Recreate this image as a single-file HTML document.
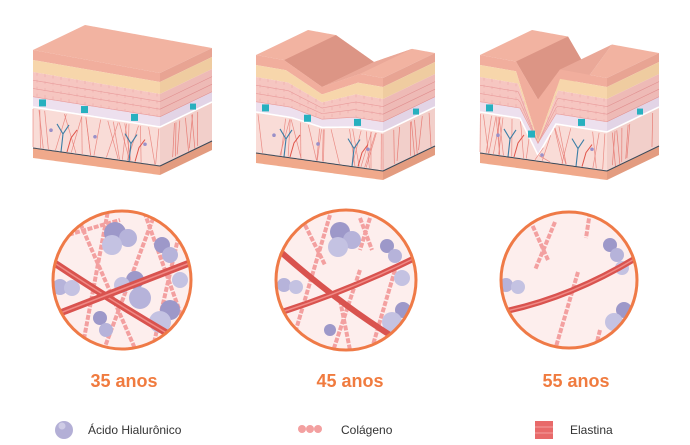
<!DOCTYPE html>
<html><head><meta charset="utf-8"><style>
html,body{margin:0;padding:0;background:#fff;}
svg{display:block;}
</style></head><body>
<svg id="s" width="690" height="445" viewBox="0 0 690 445" xmlns="http://www.w3.org/2000/svg">
<g id="blocks"></g>

<clipPath id="c1"><circle cx="122" cy="280" r="69"/></clipPath>
<clipPath id="c2"><circle cx="346" cy="280" r="70"/></clipPath>
<clipPath id="c3"><circle cx="569" cy="280" r="68"/></clipPath>

<circle cx="122" cy="280" r="69" fill="#fdeeed"/>
<g clip-path="url(#c1)">
  <g stroke="#f3a0a0" stroke-width="4" stroke-dasharray="5 1.5" fill="none">
    <line x1="70" y1="200" x2="140" y2="360"/><line x1="110" y1="200" x2="80" y2="360"/>
    <line x1="140" y1="200" x2="190" y2="340"/><line x1="160" y1="200" x2="100" y2="360"/>
    <line x1="50" y1="240" x2="120" y2="220"/><line x1="180" y1="230" x2="150" y2="360"/>
  </g>
  <circle cx="115" cy="233" r="11" fill="#9d98c9"/><circle cx="128" cy="238" r="9" fill="#b6b3da"/><circle cx="112" cy="245" r="10" fill="#c4c2e2"/>
  <circle cx="162" cy="245" r="8" fill="#9d98c9"/><circle cx="170" cy="255" r="8" fill="#b6b3da"/><circle cx="180" cy="280" r="8" fill="#c4c2e2"/>
  <circle cx="60" cy="287" r="8" fill="#b6b3da"/><circle cx="72" cy="288" r="8" fill="#c4c2e2"/>
  <circle cx="135" cy="280" r="9" fill="#9d98c9"/><circle cx="140" cy="298" r="11" fill="#b6b3da"/><circle cx="122" cy="285" r="8" fill="#c4c2e2"/>
  <circle cx="170" cy="310" r="10" fill="#9d98c9"/><circle cx="160" cy="322" r="11" fill="#c4c2e2"/>
  <circle cx="100" cy="318" r="7" fill="#9d98c9"/><circle cx="106" cy="330" r="7" fill="#b6b3da"/>
  <path d="M50,260 Q110,300 170,335" stroke="#d9534f" stroke-width="7" fill="none"/>
  <path d="M50,260 Q110,300 170,335" stroke="#f08a86" stroke-width="1.5" fill="none"/>
  <path d="M55,315 Q120,290 192,262" stroke="#d9534f" stroke-width="7" fill="none"/>
  <path d="M55,315 Q120,290 192,262" stroke="#f08a86" stroke-width="1.5" fill="none"/>
</g>
<circle cx="122" cy="280" r="69" fill="none" stroke="#ef7a47" stroke-width="3"/>

<circle cx="346" cy="280" r="70" fill="#fdeeed"/>
<g clip-path="url(#c2)">
  <g stroke="#f3a0a0" stroke-width="4" stroke-dasharray="5 1.5" fill="none">
    <line x1="305" y1="225" x2="325" y2="265"/><line x1="330" y1="215" x2="290" y2="350"/>
    <line x1="360" y1="218" x2="372" y2="250"/><line x1="370" y1="218" x2="360" y2="250"/>
    <line x1="360" y1="270" x2="330" y2="360"/><line x1="395" y1="270" x2="370" y2="355"/>
    <line x1="340" y1="300" x2="350" y2="350"/>
  </g>
  <circle cx="340" cy="232" r="10" fill="#9d98c9"/><circle cx="352" cy="240" r="9" fill="#b6b3da"/><circle cx="338" cy="247" r="10" fill="#c4c2e2"/>
  <circle cx="387" cy="246" r="7" fill="#9d98c9"/><circle cx="395" cy="256" r="7" fill="#b6b3da"/><circle cx="402" cy="278" r="8" fill="#c4c2e2"/>
  <circle cx="284" cy="285" r="7" fill="#b6b3da"/><circle cx="296" cy="287" r="7" fill="#c4c2e2"/>
  <circle cx="403" cy="310" r="8" fill="#9d98c9"/><circle cx="392" cy="322" r="10" fill="#c4c2e2"/>
  <circle cx="330" cy="330" r="6" fill="#9d98c9"/>
  <path d="M282,253 Q335,300 390,335" stroke="#d9534f" stroke-width="6" fill="none"/>
  <path d="M282,312 Q350,290 415,258" stroke="#d9534f" stroke-width="6" fill="none"/>
  <path d="M282,312 Q350,290 415,258" stroke="#f08a86" stroke-width="1.5" fill="none"/>
</g>
<circle cx="346" cy="280" r="70" fill="none" stroke="#ef7a47" stroke-width="3"/>

<circle cx="569" cy="280" r="68" fill="#fdeeed"/>
<g clip-path="url(#c3)">
  <g stroke="#f3a0a0" stroke-width="4" stroke-dasharray="5 1.5" fill="none">
    <line x1="530" y1="220" x2="548" y2="260"/><line x1="555" y1="222" x2="535" y2="270"/>
    <line x1="590" y1="212" x2="586" y2="238"/><line x1="578" y1="272" x2="555" y2="350"/>
    <line x1="600" y1="330" x2="595" y2="350"/>
  </g>
  <circle cx="610" cy="245" r="7" fill="#9d98c9"/><circle cx="617" cy="255" r="7" fill="#b6b3da"/><circle cx="622" cy="268" r="7" fill="#c4c2e2"/>
  <circle cx="506" cy="285" r="7" fill="#b6b3da"/><circle cx="518" cy="287" r="7" fill="#c4c2e2"/>
  <circle cx="624" cy="310" r="8" fill="#9d98c9"/><circle cx="614" cy="322" r="9" fill="#c4c2e2"/>
  <path d="M502,312 Q570,298 636,258" stroke="#d9534f" stroke-width="6" fill="none"/>
  <path d="M502,312 Q570,298 636,258" stroke="#f08a86" stroke-width="1.5" fill="none"/>
</g>
<circle cx="569" cy="280" r="68" fill="none" stroke="#ef7a47" stroke-width="3"/>

<g font-family="Liberation Sans, sans-serif" font-weight="bold" font-size="18" fill="#f07b3f" text-anchor="middle">
  <text x="124" y="387">35 anos</text>
  <text x="350" y="387">45 anos</text>
  <text x="576" y="387">55 anos</text>
</g>

<circle cx="64" cy="430" r="9" fill="#b3afd6"/><circle cx="62" cy="426" r="3.5" fill="#cfcce6"/>
<circle cx="302" cy="429" r="4" fill="#f3a0a0"/><circle cx="310" cy="429" r="4" fill="#f3a0a0"/><circle cx="318" cy="429" r="4" fill="#f3a0a0"/>
<rect x="535" y="421" width="18" height="18" fill="#e86a6a"/>
<line x1="535" y1="427" x2="553" y2="427" stroke="#f5a0a0" stroke-width="1"/>
<line x1="535" y1="433" x2="553" y2="433" stroke="#f5a0a0" stroke-width="1"/>
<g font-family="Liberation Sans, sans-serif" font-size="12" fill="#333">
  <text x="88" y="434">Ácido Hialurônico</text>
  <text x="341" y="434">Colágeno</text>
  <text x="570" y="434">Elastina</text>
</g>
</svg>
<script>
(function(){
var NS="http://www.w3.org/2000/svg";
var root=document.getElementById("blocks");
function el(tag,attrs,parent){var e=document.createElementNS(NS,tag);for(var k in attrs)e.setAttribute(k,attrs[k]);(parent||root).appendChild(e);return e;}
var L=[0,10,22,47,57,98,108], R=[23,32,44,67,77,116,125];
var W=127, SX=52, SY=-25;
var cols=['#f1ae9d','#f7d6ab','#f6c6c1','#ede0ee','#f9dcd7','#f0a98b'];
var rcols=['#e8a493','#efcca0','#eebab6','#e2d4e6','#f2cfca','#e39c80'];
var seed=1;function rnd(){seed=(seed*16807)%2147483647;return (seed-1)/2147483646;}
function block(ox,oy,dip){
  var g=el("g",{transform:"translate("+ox+","+oy+")"});
  function y(x,i){
    var v=L[i]+(R[i]-L[i])*x/W;
    if(dip&&dip.w[i]>1){var t=Math.abs(x-dip.cx);if(t<dip.w[i])v+=dip.D[i]*(1-t/dip.w[i]);}
    return v;
  }
  function yc(x,i){var v=y(x,i);for(var j=0;j<i;j++)v=Math.max(v,y(x,j));return v;}
  var xs=[];for(var x=0;x<=W;x+=1)xs.push(x);
  var pts=[];
  xs.forEach(function(x){pts.push(x+","+yc(x,0));});
  for(var i=xs.length-1;i>=0;i--){var x=xs[i];pts.push((x+SX)+","+(yc(x,0)+SY));}
  el("polygon",{points:pts.join(" "),fill:"#f2b3a1"},g);
  if(dip){
    var a=dip.cx-dip.w[0],b=dip.cx+dip.w[0],p=[];
    for(var x=a;x<=dip.cx;x++)p.push(x+","+yc(x,0));
    p.push((dip.cx+SX)+","+(yc(dip.cx,0)+SY));p.push((a+SX)+","+(yc(a,0)+SY));
    el("polygon",{points:p.join(" "),fill:"#dc9585"},g);
    p=[];
    for(var x=dip.cx;x<=b;x++)p.push(x+","+yc(x,0));
    p.push((b+SX)+","+(yc(b,0)+SY));p.push((dip.cx+SX)+","+(yc(dip.cx,0)+SY));
    el("polygon",{points:p.join(" "),fill:"#eaa898"},g);
  }
  for(var i=0;i<6;i++){
    var p=[];
    xs.forEach(function(x){p.push(x+","+yc(x,i));});
    for(var k=xs.length-1;k>=0;k--){p.push(xs[k]+","+yc(xs[k],i+1));}
    el("polygon",{points:p.join(" "),fill:cols[i]},g);
  }
  for(var i=0;i<6;i++){
    el("polygon",{points:[W+","+R[i],(W+SX)+","+(R[i]+SY),(W+SX)+","+(R[i+1]+SY),W+","+R[i+1]].join(" "),fill:rcols[i]},g);
  }
  for(var f=0.33;f<1;f+=0.33){
    var p=[];xs.forEach(function(x){p.push(x+","+(yc(x,2)+(yc(x,3)-yc(x,2))*f));});
    el("polyline",{points:p.join(" "),fill:"none",stroke:"#e89a9a","stroke-width":0.6},g);
    el("line",{x1:W,y1:R[2]+(R[3]-R[2])*f,x2:W+SX,y2:R[2]+(R[3]-R[2])*f+SY,stroke:"#e09090","stroke-width":0.6},g);
  }
  for(var x=4;x<W;x+=8){
    var a=yc(x,2),b=yc(x,3);
    if(b-a>3)el("line",{x1:x,y1:a,x2:x,y2:b,stroke:"#eaa2a2","stroke-width":0.5,"stroke-dasharray":"3 4"},g);
  }
  var p=[];xs.forEach(function(x){p.push(x+","+(yc(x,4)));});
  el("polyline",{points:p.join(" "),fill:"none",stroke:"#fff","stroke-width":1.6},g);
  el("line",{x1:W,y1:R[4],x2:W+SX,y2:R[4]+SY,stroke:"#fff","stroke-width":1.6},g);
  [6,48,98].forEach(function(x){var yy=yc(x+3,3);el("rect",{x:x,y:yy+1,width:7,height:7,fill:"#27b0bf"},g);});
  el("rect",{x:W+30,y:R[3]+SY*30/SX+1,width:6,height:6,fill:"#27b0bf"},g);
  for(var n=0;n<22;n++){
    var x=rnd()*W, x2=Math.max(0,Math.min(W,x+(rnd()-0.5)*24));
    var y1=yc(x,4)+2, y2=yc(x2,5)-1;
    if(y2-y1>4)el("line",{x1:x,y1:y1,x2:x2,y2:y2,stroke:"#e77d76","stroke-width":0.7,opacity:0.85},g);
  }
  for(var n=0;n<7;n++){
    var x=W+4+rnd()*(SX-8);var t=(x-W)/SX;
    el("line",{x1:x,y1:R[4]+SY*t+3,x2:x+(rnd()-0.5)*8,y2:R[5]+SY*t-2,stroke:"#e77d76","stroke-width":0.7},g);
  }
  [28,96].forEach(function(x){
    var b=yc(x,5),t=yc(x,4);
    if(b-t>20)el("path",{d:"M"+x+","+b+" L"+(x+2)+","+(b-18)+" L"+(x-4)+","+(b-28)+" M"+(x+2)+","+(b-18)+" L"+(x+8)+","+(b-27),stroke:"#3b7ea6","stroke-width":1.1,fill:"none"},g);
    if(b-t>20)el("path",{d:"M"+(x+6)+","+b+" L"+(x+10)+","+(b-14)+" L"+(x+16)+","+(b-22),stroke:"#e0554a","stroke-width":1,fill:"none"},g);
  });
  [18,62,112].forEach(function(x){var yy=(yc(x,4)+yc(x,5))/2;el("circle",{cx:x,cy:yy,r:1.8,fill:"#9a90c8"},g);});
  var p=[];xs.forEach(function(x){p.push(x+","+yc(x,5));});
  el("polyline",{points:p.join(" "),fill:"none",stroke:"#3a4a5a","stroke-width":1},g);
  el("line",{x1:W,y1:R[5],x2:W+SX,y2:R[5]+SY,stroke:"#3a4a5a","stroke-width":1},g);
}
block(33,50,null);
block(256,55,{cx:66,w:[38,36,34,32,30,1,1],D:[20,18,14,7,5,0,0]});
block(480,55,{cx:58,w:[22,22,20,18,18,1,1],D:[34,66,56,32,34,0,0]});
})();
</script>
</body></html>
